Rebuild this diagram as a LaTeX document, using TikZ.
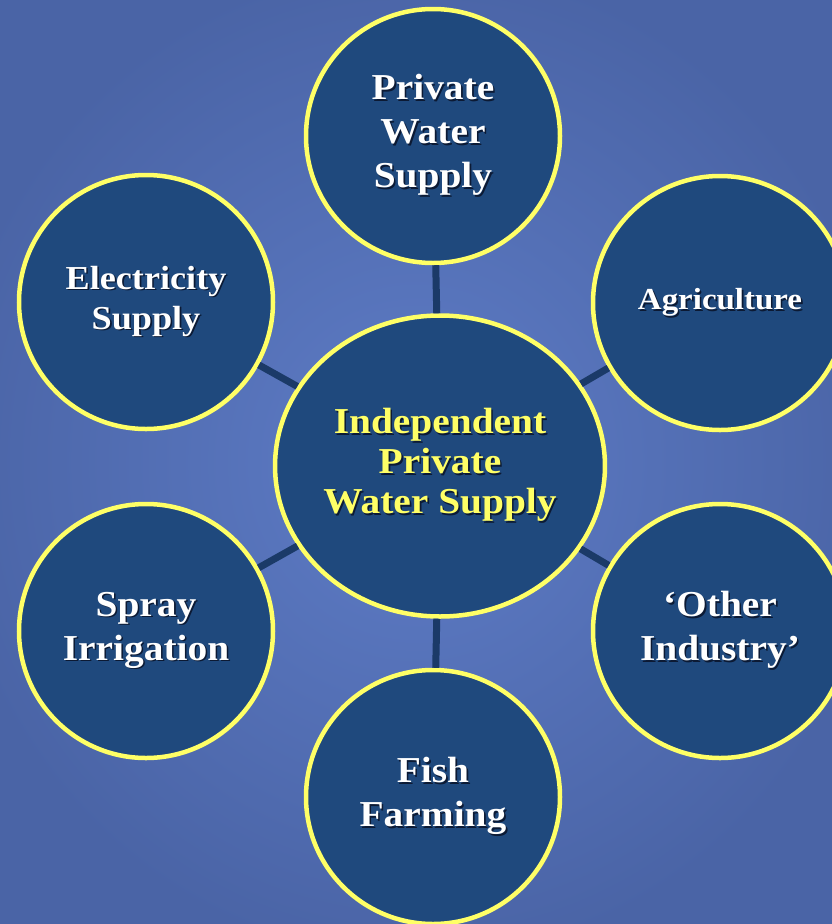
\documentclass[tikz,border=0pt]{standalone}
\usepackage{fontspec}
\setmainfont[FakeStretch=1.08]{Liberation Serif}
\usetikzlibrary{shapes.geometric}
\definecolor{bgin}{RGB}{94,124,198}
\definecolor{bgout}{RGB}{74,100,166}
\definecolor{navy}{RGB}{31,73,125}
\definecolor{ring}{RGB}{255,255,102}
\definecolor{linkcol}{RGB}{27,58,104}
\definecolor{shadowcol}{RGB}{12,26,52}
% text with a small drop shadow
\newcommand{\sh}[1]{\makebox[0pt][l]{\hspace{1.6pt}\raisebox{-1.6pt}{\color{shadowcol}#1}}#1}
\tikzset{
  bubble/.style={circle, fill=navy, draw=ring, line width=4.5pt, minimum size=254pt,
    inner sep=0pt, text=white, align=center, font=\bfseries\fontsize{36.5}{44}\selectfont},
  hub/.style={bubble, ellipse, minimum width=321pt, minimum height=301pt, text=ring,
    font=\bfseries\fontsize{36.5}{40}\selectfont},
  link/.style={draw=linkcol, line width=7pt}
}
\begin{document}
\begin{tikzpicture}[x=1pt,y=-1pt]
  \useasboundingbox (0,0) rectangle (832,924);
  \shade[inner color=bgin, outer color=bgout] (-60,-40) rectangle (892,964);

  \node[hub] (hub) at (440,466) {\sh{Independent}\\ \sh{Private}\\ \sh{Water Supply}};

  \node[bubble] (pws) at (433,136) {\sh{Private}\\ \sh{Water}\\ \sh{Supply}};
  \node[bubble, font=\bfseries\fontsize{33.5}{40}\selectfont] (elec) at (146,302) {\sh{Electricity}\\ \sh{Supply}};
  \node[bubble, font=\bfseries\fontsize{30.5}{36}\selectfont] (agri) at (720,303) {\sh{Agriculture}};
  \node[bubble] (spray) at (146,631) {\sh{Spray}\\ \sh{Irrigation}};
  \node[bubble] (other) at (720,631) {\sh{‘Other}\\ \sh{Industry’}};
  \node[bubble] (fish) at (433,797) {\sh{Fish}\\ \sh{Farming}};

  % spokes from the hub
  \foreach \n in {pws,elec,agri,spray,other,fish}
    \draw[link] (hub) -- (\n);
\end{tikzpicture}
\end{document}
